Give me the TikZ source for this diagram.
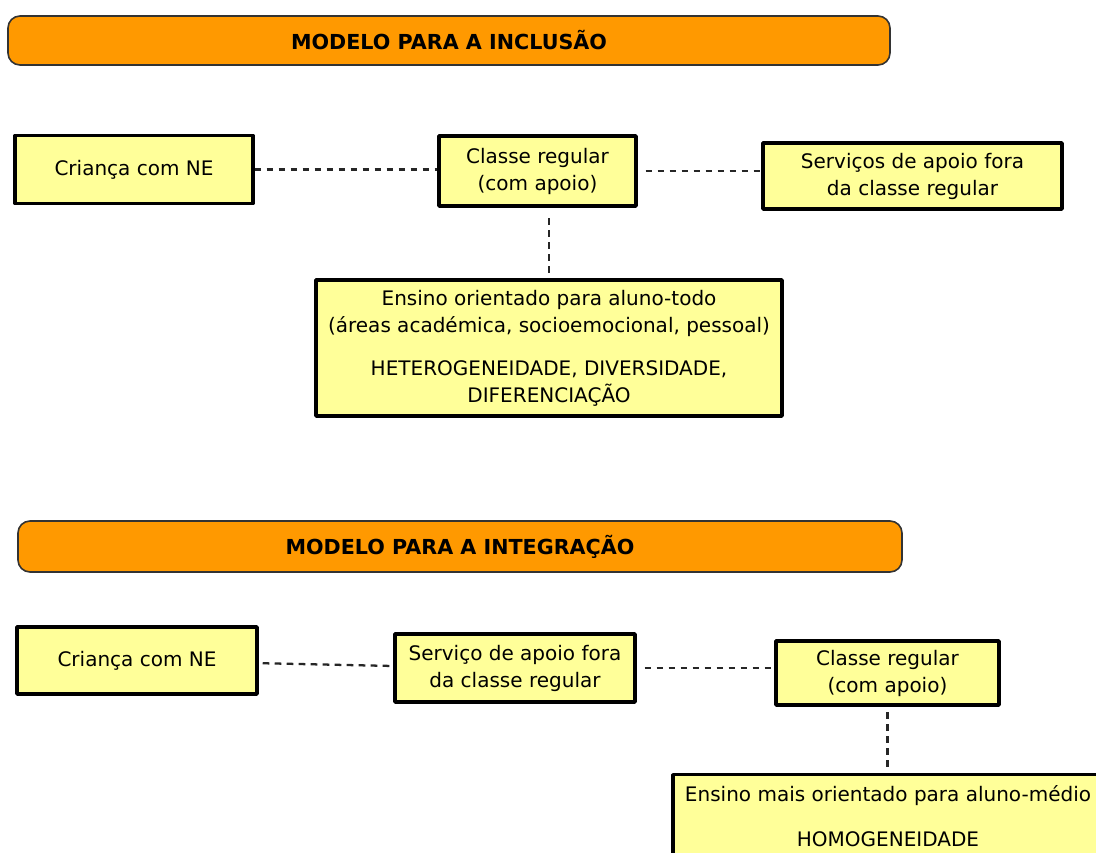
\documentclass[tikz,border=0pt]{standalone}
\usepackage{fontspec}
\setmainfont{DejaVu Sans}
\definecolor{laranja}{RGB}{255,153,0}
\definecolor{amarelo}{RGB}{255,255,153}
\begin{document}
\begin{tikzpicture}[x=0.75pt, y=-0.75pt, line join=round, font=\fontsize{15}{20.25}\selectfont,
		caixa/.style={draw=black, line width=2.6pt, fill=amarelo, align=center, inner sep=0pt},
		faixa/.style={draw=black!80, line width=1.2pt, fill=laranja, rounded corners=9pt, inner sep=0pt, font=\fontsize{15.5}{18}\selectfont\bfseries},
		tracejado/.style={draw=black!85, line width=1.7pt, dash pattern=on 5pt off 4pt}]
	\useasboundingbox (0,0) rectangle (1096,853);
	\clip (0,0) rectangle (1096,853);
	% modelo para a inclusao
	\node[faixa, minimum width=661.5pt, minimum height=36.75pt] (faixa1) at (449,40.5) {MODELO PARA A INCLUSÃO};
	\node[caixa, minimum width=178.5pt, minimum height=51pt] (crianca1) at (134,169.5) {Criança com NE};
	\node[caixa, minimum width=147.75pt, minimum height=52.5pt] (classe1) at (537.5,171) {Classe regular\\(com apoio)};
	\node[caixa, minimum width=224.25pt, minimum height=49.5pt] (servicos1) at (912.5,176) {Serviços de apoio fora\\da classe regular};
	\node[caixa, minimum width=349.5pt, minimum height=102pt] (ensino1) at (549,348) {Ensino orientado para aluno-todo\\(áreas académica, socioemocional, pessoal)\\[12pt]HETEROGENEIDADE, DIVERSIDADE,\\DIFERENCIAÇÃO};
	\draw[tracejado] (crianca1.east)--(crianca1.east -| classe1.west);
	\draw[tracejado, shorten <=6pt] (classe1.east)--(classe1.east -| servicos1.west);
	\draw[tracejado, shorten <=4pt, shorten >=4pt] (ensino1.north)--(ensino1.north |- classe1.south);
	% modelo para a integracao
	\node[faixa, minimum width=663pt, minimum height=38.25pt] (faixa2) at (460,546.5) {MODELO PARA A INTEGRAÇÃO};
	\node[caixa, minimum width=180pt, minimum height=50.25pt] (crianca2) at (137,660.5) {Criança com NE};
	\node[caixa, minimum width=180pt, minimum height=51pt] (servico2) at (515,668) {Serviço de apoio fora\\da classe regular};
	\node[caixa, minimum width=167.25pt, minimum height=48pt] (classe2) at (887.5,673) {Classe regular\\(com apoio)};
	\node[caixa, anchor=north, minimum width=322.5pt, inner ysep=8pt, text depth=14pt] (ensino2) at (888,773) {Ensino mais orientado para aluno-médio\\[13.5pt]HOMOGENEIDADE};
	\draw[tracejado, shorten <=3pt] ([yshift=-2pt]crianca2.east)--([yshift=1.5pt]servico2.west);
	\draw[tracejado, shorten <=6pt] (servico2.east)--(servico2.east -| classe2.west);
	\draw[tracejado, shorten <=4pt, shorten >=4pt] (classe2.south)--(classe2.south |- ensino2.north);
\end{tikzpicture}
\end{document}
